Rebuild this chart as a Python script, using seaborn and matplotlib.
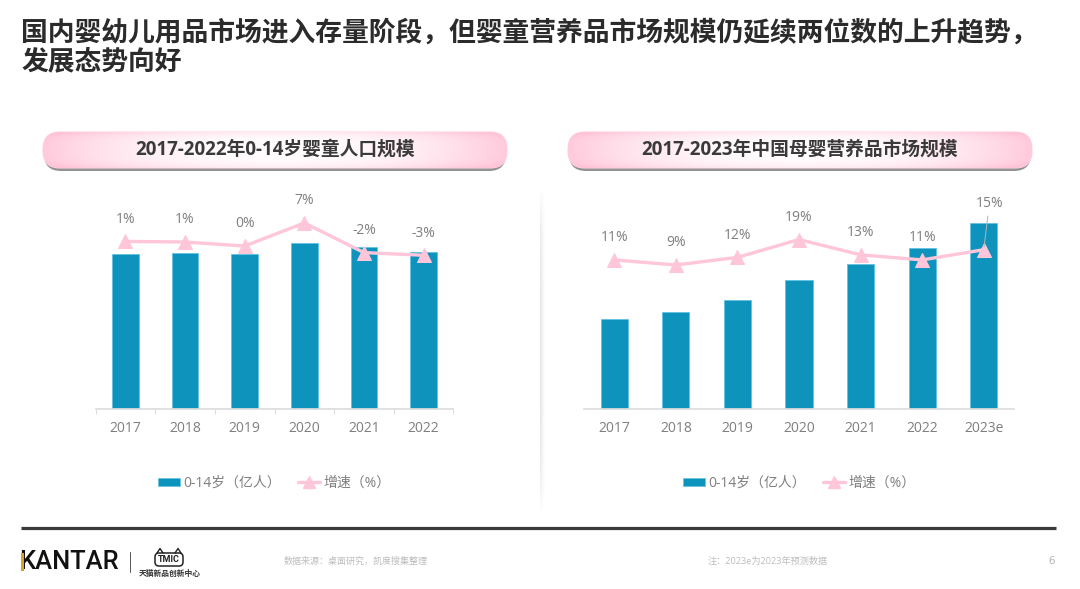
import numpy as np
import pandas as pd
import matplotlib
matplotlib.use("Agg")
import matplotlib.pyplot as plt
from matplotlib.patches import FancyBboxPatch, Rectangle
import seaborn as sns

# values, bar heights are estimates since no axis is shown
years_left = ["2017", "2018", "2019", "2020", "2021", "2022"]
people = [2.36, 2.38, 2.36, 2.53, 2.47, 2.39]
people_growth = [1.4, 1.2, 0.0, 7.0, -2.0, -2.8]
people_labels = ["1%", "1%", "0%", "7%", "-2%", "-3%"]

years_right = ["2017", "2018", "2019", "2020", "2021", "2022", "2023e"]
market = [448, 483, 543, 643, 723, 803, 928]
market_growth = [11, 9, 12, 19, 13, 11, 15]
market_labels = ["11%", "9%", "12%", "19%", "13%", "11%", "15%"]

title_lines = ["国内婴幼儿用品市场进入存量阶段，但婴童营养品市场规模仍延续两位数的上升趋势，", "发展态势向好"]
left_title = "2017-2022年0-14岁婴童人口规模"
right_title = "2017-2023年中国母婴营养品市场规模"
bar_name = "0-14岁（亿人）"
line_name = "增速（%）"
source_note = "数据来源：桌面研究，凯度搜集整理"
forecast_note = "注：2023e为2023年预测数据"

BLUE = "#0E93BD"
PINK = "#FFC6DA"
GREY = "#7F7F7F"
W, H = 1080, 589

sns.set_theme(style="white")
plt.rcParams["font.family"] = ["Open Sans", "Noto Sans CJK SC", "DejaVu Sans"]

fig = plt.figure(figsize=(W / 100, H / 100), dpi=100, facecolor="white")


def px_axes(x0, x1, y0, y1):
    return fig.add_axes([x0 / W, 1 - y1 / H, (x1 - x0) / W, (y1 - y0) / H])


# full-figure layer for everything that is not the chart
bg = px_axes(0, W, 0, H)
bg.set_xlim(0, W)
bg.set_ylim(H, 0)
bg.axis("off")


def draw_pill(x0, x1, y0, y1, text):
    shadow = FancyBboxPatch((x0 + 1, y0 + 3), x1 - x0 - 2, y1 - y0, boxstyle="round,pad=0,rounding_size=17",
                            fc="#777777", ec="none", alpha=0.8)
    bg.add_patch(shadow)
    pill = FancyBboxPatch((x0, y0), x1 - x0, y1 - y0, boxstyle="round,pad=0,rounding_size=17",
                          fc="white", ec="#FFD3E1", lw=0.8)
    bg.add_patch(pill)
    xx, yy = np.meshgrid(np.linspace(-1, 1, 300), np.linspace(-1, 1, 40))
    t = np.clip(np.abs(xx) ** 2.2 * 0.85 + np.abs(yy) ** 4 * 0.3, 0, 1)[..., None]
    img = (1 - t) * np.array([1.0, 0.99, 0.995]) + t * np.array([1.0, 0.76, 0.84])
    im = bg.imshow(img, extent=(x0, x1, y1, y0), aspect="auto", zorder=2)
    im.set_clip_path(pill)
    bg.text((x0 + x1) / 2, (y0 + y1) / 2, text, ha="center", va="center", fontsize=13.5,
            fontweight="bold", color="#3a3a3a", zorder=3)


def draw_panel(rect, cats, values, growth, labels, width, top, lims):
    ax = px_axes(*rect)
    ax.patch.set_alpha(0)
    df = pd.DataFrame({"year": cats, "value": values})
    sns.barplot(data=df, x="year", y="value", color=BLUE, saturation=1, width=width,
                edgecolor="#63C3E2", linewidth=0.6, ax=ax)
    ax.set_xlim(-0.5, len(cats) - 0.5)
    ax.set_ylim(0, top)
    ax.set_xlabel("")
    ax.set_ylabel("")
    ax.set_yticks([])
    ax.tick_params(axis="x", colors=GREY, labelsize=10, length=0, pad=9)
    sns.despine(ax=ax, left=True)
    ax.spines["bottom"].set_color("#DDDDDD")

    ax2 = ax.twinx()
    line_df = pd.DataFrame({"pos": range(len(cats)), "growth": growth})
    sns.lineplot(data=line_df, x="pos", y="growth", color=PINK, lw=2.4, marker="^", markersize=10,
                 markeredgecolor=PINK, ax=ax2)
    ax2.set_ylim(*lims)
    ax2.set_yticks([])
    ax2.set_ylabel("")
    sns.despine(ax=ax2, left=True, right=True, bottom=True)

    for i, (g, lab) in enumerate(zip(growth, labels)):
        ax2.annotate(lab, (i, g), xytext=(0, 16), textcoords="offset points", ha="center", va="center",
                     fontsize=10, color=GREY)
    return ax, ax2


draw_pill(43, 507, 132, 168, left_title)
draw_pill(568, 1032, 132, 168, right_title)

ax_l, ax_l2 = draw_panel((95.5, 453.5, 180, 408.5), years_left, people, people_growth, people_labels,
                         0.45, 3.495, (-49.24, 20.0))
ax_l.set_xticks(np.arange(-0.5, 6, 1), minor=True)
ax_l.tick_params(axis="x", which="minor", bottom=True, length=3.5, color="#DDDDDD", width=0.8)

ax_r, ax_r2 = draw_panel((583.5, 1014.5, 180, 408.5), years_right, market, market_growth, market_labels,
                         0.44, 1142.5, (-47.3, 42.35))
# last label sits higher with a thin leader line
ax_r2.texts[-1].remove()
ax_r2.annotate(market_labels[-1], (6, market_growth[-1]), xytext=(4, 33), textcoords="offset points",
               ha="center", va="center", fontsize=10, color=GREY,
               arrowprops=dict(arrowstyle="-", color="#B5B5B5", lw=0.7, shrinkA=1, shrinkB=2))

# legends
for centre in [274, 799]:
    handles = [Rectangle((0, 0), 1, 1, fc=BLUE, ec="#63C3E2", lw=0.5),
               plt.Line2D([], [], color=PINK, lw=2.4, marker="^", markersize=8, markeredgecolor=PINK)]
    fig.legend(handles, [bar_name, line_name], loc="center", bbox_to_anchor=(centre / W, 1 - 483 / H),
               ncol=2, frameon=False, fontsize=10, labelcolor=GREY, handlelength=1.6, handleheight=0.5,
               handletextpad=0.25, columnspacing=1.2)

# soft divider between the panels
xx, yy = np.meshgrid(np.linspace(0, 1, 12), np.linspace(-1, 1, 80))
fade = np.clip((1 - xx) ** 2 * (1 - np.abs(yy) ** 4) * 0.16, 0, 1)
shade = np.zeros(fade.shape + (4,))
shade[..., :3] = 0.35
shade[..., 3] = fade
bg.imshow(shade, extent=(540, 547, 515, 185), aspect="auto", zorder=1)
bg.set_xlim(0, W)
bg.set_ylim(H, 0)

# headline
bg.text(21, 33, title_lines[0], fontsize=19.3, fontweight="bold", color="#2B2B2B", va="center", ha="left")
bg.text(21, 62, title_lines[1], fontsize=19.3, fontweight="bold", color="#2B2B2B", va="center", ha="left")

# footer
bg.plot([21, 1056], [527.5, 527.5], color="#3A3A3A", lw=2.3, solid_capstyle="butt")
bg.text(19, 562, "KANTAR", family="Roboto", fontsize=18.4, fontweight="medium", color="#111111", va="center", ha="left")
bg.add_patch(Rectangle((21, 553), 2.5, 18, fc="#D9A520", ec="none", zorder=4))
bg.plot([130, 130], [552, 572], color="#555555", lw=0.7)
bg.add_patch(FancyBboxPatch((155, 553), 28, 13, boxstyle="round,pad=0,rounding_size=4", fc="white", ec="#222222", lw=1.1))
bg.plot([157, 160, 163], [553, 548.5, 553], color="#222222", lw=1.0)
bg.plot([175, 178, 181], [553, 548.5, 553], color="#222222", lw=1.0)
bg.text(169, 559.5, "TMIC", family="Roboto", fontsize=6.5, fontweight="bold", color="#222222", ha="center", va="center")
bg.text(169.5, 573, "天猫新品创新中心", fontsize=5.6, fontweight="bold", color="#333333", ha="center", va="center")
bg.text(284, 561, source_note, fontsize=6.5, color="#BDBDBD", va="center", ha="left")
bg.text(708, 561, forecast_note, fontsize=6.6, color="#BDBDBD", va="center", ha="left")
bg.text(1052, 561, "6", fontsize=8, color="#ADADAD", va="center", ha="center")

fig.savefig("out.png", dpi=100)
